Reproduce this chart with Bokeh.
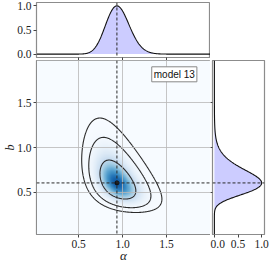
import numpy as np
from bokeh.plotting import figure
from bokeh.layouts import gridplot
from bokeh.models import (FixedTicker, Span, Label, LinearColorMapper, Range1d,
                          PrintfTickFormatter)
from bokeh.palettes import Blues256
from bokeh.embed import file_html
from bokeh.resources import INLINE

# ---------------- values ----------------
peak_alpha = 0.935          # mode of alpha (dashed vertical line)
peak_b = 0.605              # mode of b (dashed horizontal line)
sigma_sqrt_alpha = 0.069    # spread of alpha (on a square-root scale)
sigma_log_b = 0.23          # spread of b (on a log scale)
corr = -0.45                # correlation between the two
contour_radii = [1.53, 2.65, 3.42]   # the three contour lines (in sigma units)
alpha_range = (0.02, 2.0)
b_range = (0.03, 1.97)
main_ticks = [0.5, 1.0, 1.5]
marg_ticks = [0.0, 0.5, 1.0]
top_marg_range = (-0.07, 1.07)
right_marg_range = (-0.04, 1.06)
legend_text = "model 13"
x_label = "α"
y_label = "b"

# ---------------- density surface ----------------
na, nb = 400, 400
a = np.linspace(alpha_range[0], alpha_range[1], na)
b = np.linspace(b_range[0], b_range[1], nb)
A, B = np.meshgrid(a, b)
U = (np.sqrt(A) - np.sqrt(peak_alpha)) / sigma_sqrt_alpha
V = (np.log(B) - np.log(peak_b)) / sigma_log_b
Q = (U * U - 2 * corr * U * V + V * V) / (1 - corr ** 2)
Z = np.exp(-Q / 2)
levels = sorted(float(np.exp(-r * r / 2)) for r in contour_radii)

pa = np.exp(-((np.sqrt(a) - np.sqrt(peak_alpha)) / sigma_sqrt_alpha) ** 2 / 2)
pb = np.exp(-((np.log(b) - np.log(peak_b)) / sigma_log_b) ** 2 / 2)

TICK_FONT = "Liberation Serif"
TICK_SIZE = "11.5px"
FILL = "#ccccff"
OUTLINE = "#8c8c8c"
DASH_COLOR = "#2a2a2a"
FMT = PrintfTickFormatter(format="%.1f")


def style_axes(p):
    for ax in p.axis:
        ax.formatter = FMT
        ax.major_label_text_font = TICK_FONT
        ax.major_label_text_font_size = TICK_SIZE
        ax.major_label_text_color = "#222222"
        ax.axis_line_color = OUTLINE
        ax.major_tick_line_color = "#444444"
        ax.major_tick_out = 3
        ax.major_tick_in = 0
        ax.minor_tick_line_color = None
        ax.major_label_standoff = 2
    p.outline_line_color = OUTLINE
    p.outline_line_width = 1.2


def hide_labels(ax, ticks, out=3):
    ax.major_label_overrides = {t: "" for t in ticks}
    ax.major_label_text_font_size = "1px"
    ax.major_label_standoff = 0
    ax.major_tick_out = out


xr = Range1d(*alpha_range)
yr = Range1d(*b_range)

# ---------------- main panel ----------------
main = figure(width=210, height=205, x_range=xr, y_range=yr,
              output_backend="svg", toolbar_location=None,
              min_border_left=33, min_border_right=0,
              min_border_top=0, min_border_bottom=31)
mapper = LinearColorMapper(palette=list(reversed(Blues256)), low=0, high=1.18)
main.image(image=[Z], x=alpha_range[0], y=b_range[0],
           dw=alpha_range[1] - alpha_range[0], dh=b_range[1] - b_range[0],
           color_mapper=mapper)
main.contour(A, B, Z, levels=levels, line_color="#2b2b2b", line_width=1.1,
             fill_color=None)
main.add_layout(Span(location=peak_alpha, dimension="height", line_dash="3 2",
                     line_color=DASH_COLOR, line_width=1))
main.add_layout(Span(location=peak_b, dimension="width", line_dash="3 2",
                     line_color=DASH_COLOR, line_width=1))
main.scatter([peak_alpha], [peak_b], marker="circle", size=4, color="#111111")
main.xaxis.ticker = FixedTicker(ticks=main_ticks)
main.yaxis.ticker = FixedTicker(ticks=main_ticks)
main.xgrid.ticker = FixedTicker(ticks=main_ticks)
main.ygrid.ticker = FixedTicker(ticks=main_ticks)
main.grid.grid_line_color = "#b8b8b8"
main.grid.grid_line_alpha = 0.8
main.grid.level = "annotation"
style_axes(main)
main.xaxis.axis_label = x_label
main.yaxis.axis_label = y_label
for ax in (main.xaxis[0], main.yaxis[0]):
    ax.axis_label_text_font = "Liberation Serif"
    ax.axis_label_text_font_style = "italic"
    ax.axis_label_text_color = "#222222"
main.xaxis.axis_label_text_font_size = "13px"
main.yaxis.axis_label_text_font_size = "12px"
main.xaxis.axis_label_standoff = -3
main.yaxis.axis_label_standoff = -3
main.add_layout(Label(x=1.845, y=1.816, text=legend_text, text_align="right",
                      text_baseline="middle", text_font="Liberation Sans",
                      text_font_size="10px", text_color="#111111",
                      background_fill_color="white", border_line_color="#888888",
                      border_line_width=1, padding=2))

# ---------------- top marginal ----------------
top = figure(width=210, height=60, x_range=xr, y_range=top_marg_range,
             output_backend="svg", toolbar_location=None,
             min_border_left=33, min_border_right=0,
             min_border_top=2, min_border_bottom=3)
top.varea(x=a, y1=0, y2=pa, fill_color=FILL)
top.line(a, pa, line_color="#111111", line_width=1.1)
top.add_layout(Span(location=peak_alpha, dimension="height", line_dash="3 2",
                    line_color=DASH_COLOR, line_width=1))
top.xaxis.ticker = FixedTicker(ticks=main_ticks)
top.yaxis.ticker = FixedTicker(ticks=marg_ticks)
top.grid.visible = False
style_axes(top)
hide_labels(top.xaxis[0], main_ticks)

# ---------------- right marginal ----------------
right = figure(width=60, height=205, x_range=right_marg_range, y_range=yr,
               output_backend="svg", toolbar_location=None,
               min_border_left=2, min_border_right=6,
               min_border_top=0, min_border_bottom=31)
right.harea(y=b, x1=0, x2=pb, fill_color=FILL)
right.line(pb, b, line_color="#111111", line_width=1.1)
right.add_layout(Span(location=peak_b, dimension="width", line_dash="3 2",
                      line_color=DASH_COLOR, line_width=1))
right.xaxis.ticker = FixedTicker(ticks=marg_ticks)
right.yaxis.ticker = FixedTicker(ticks=main_ticks)
right.grid.visible = False
style_axes(right)
hide_labels(right.yaxis[0], main_ticks, out=2)

grid = gridplot([[top, None], [main, right]], toolbar_location=None)

open("out.html", "w").write(file_html(grid, INLINE))
